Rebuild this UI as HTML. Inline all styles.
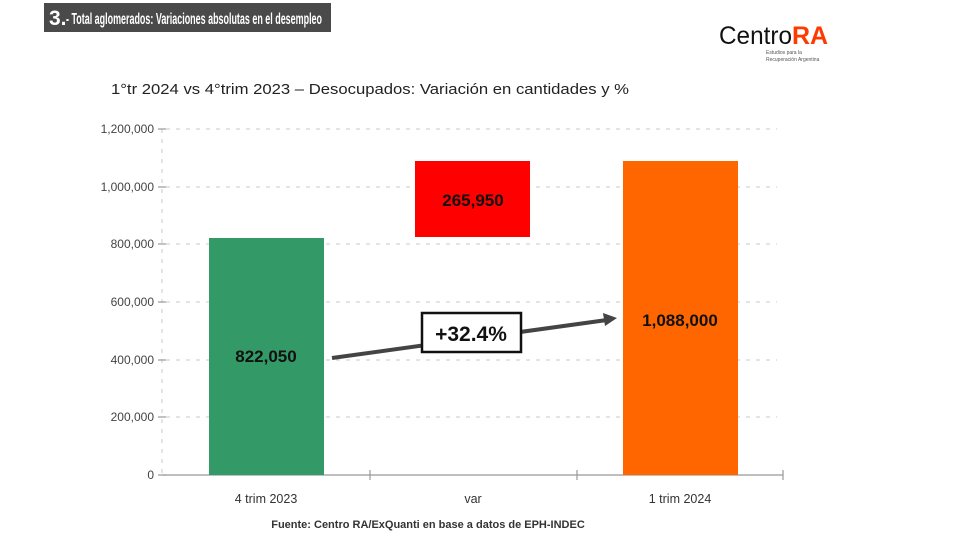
<!DOCTYPE html>
<html><head><meta charset="utf-8"><style>
body{margin:0;background:#fff;width:972px;height:547px;overflow:hidden;font-family:"Liberation Sans",sans-serif}
</style></head><body>
<svg width="972" height="547" viewBox="0 0 972 547" xmlns="http://www.w3.org/2000/svg">
<rect x="0" y="0" width="972" height="547" fill="#fff"/>
<rect x="44" y="3" width="287" height="29" fill="#4a4a4a"/>
<text x="49" y="25" font-size="21" font-weight="bold" fill="#fff" font-family="Liberation Sans Narrow, Liberation Sans, sans-serif">3.</text>
<text x="66" y="24" font-size="16" font-weight="bold" fill="#fff" font-family="Liberation Sans Narrow, Liberation Sans, sans-serif" textLength="256" lengthAdjust="spacingAndGlyphs">- Total aglomerados: Variaciones absolutas en el desempleo</text>
<text x="719" y="44" font-size="25" fill="#111" textLength="73" lengthAdjust="spacingAndGlyphs">Centro</text>
<text x="792" y="44" font-size="25" font-weight="bold" fill="#ff3a00">RA</text>
<text x="766" y="54" font-size="5" fill="#555">Estudios para la</text>
<text x="766" y="61" font-size="5" fill="#555">Recuperación Argentina</text>
<text x="111" y="94" font-size="15" fill="#222" font-family="Liberation Sans Narrow, Liberation Sans, sans-serif" textLength="518" lengthAdjust="spacingAndGlyphs">1°tr 2024 vs 4°trim 2023 – Desocupados: Variación en cantidades y %</text>
<g stroke="#c8c8c8" stroke-width="1" stroke-dasharray="4,6">
<line x1="166" y1="129" x2="777" y2="129"/>
<line x1="166" y1="187" x2="777" y2="187"/>
<line x1="166" y1="244" x2="777" y2="244"/>
<line x1="166" y1="302" x2="777" y2="302"/>
<line x1="166" y1="360" x2="777" y2="360"/>
<line x1="166" y1="417" x2="777" y2="417"/>
<line x1="162" y1="129" x2="162" y2="475"/>
</g>
<g stroke="#999" stroke-width="1.2">
<line x1="162" y1="475" x2="783" y2="475"/>
<line x1="158" y1="129" x2="166" y2="129"/><line x1="158" y1="187" x2="166" y2="187"/>
<line x1="158" y1="244" x2="166" y2="244"/><line x1="158" y1="302" x2="166" y2="302"/>
<line x1="158" y1="360" x2="166" y2="360"/><line x1="158" y1="417" x2="166" y2="417"/>
<line x1="158" y1="475" x2="166" y2="475"/>
<line x1="370" y1="470" x2="370" y2="480"/><line x1="577" y1="470" x2="577" y2="480"/><line x1="783" y1="470" x2="783" y2="480"/>
</g>
<g font-size="12" fill="#444" text-anchor="end">
<text x="154" y="133">1,200,000</text><text x="154" y="191">1,000,000</text>
<text x="154" y="248">800,000</text><text x="154" y="306">600,000</text>
<text x="154" y="364">400,000</text><text x="154" y="421">200,000</text>
<text x="154" y="479">0</text>
</g>
<rect x="209" y="238" width="115" height="237" fill="#339966"/>
<rect x="415" y="161" width="115" height="76" fill="#ff0000"/>
<rect x="623" y="161" width="115" height="314" fill="#ff6600"/>
<g font-size="17" font-weight="bold" fill="#111" text-anchor="middle">
<text x="266" y="362">822,050</text>
<text x="473" y="206">265,950</text>
<text x="680" y="326">1,088,000</text>
</g>
<line x1="332" y1="358" x2="607" y2="320" stroke="#444" stroke-width="4"/>
<polygon points="617,318 603,313 605,326" fill="#444"/>
<rect x="422" y="313" width="99" height="39" fill="#fff" stroke="#111" stroke-width="2.5"/>
<text x="471" y="341" font-size="21" font-weight="bold" fill="#111" text-anchor="middle">+32.4%</text>
<g font-size="12.5" fill="#333" text-anchor="middle">
<text x="266" y="503">4 trim 2023</text><text x="473" y="503">var</text><text x="680" y="503">1 trim 2024</text>
</g>
<text x="428" y="528" font-size="11" font-weight="bold" fill="#333" text-anchor="middle">Fuente: Centro RA/ExQuanti en base a datos de EPH-INDEC</text>
</svg>
</body></html>
